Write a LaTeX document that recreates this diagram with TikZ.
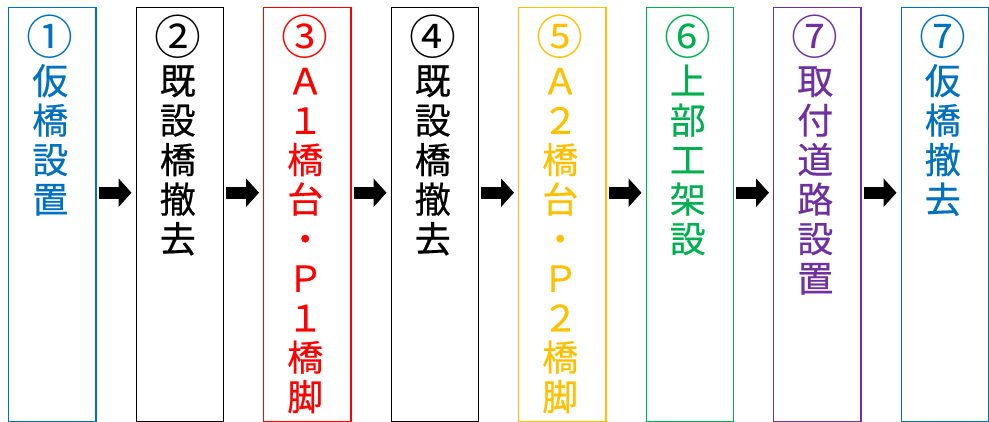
\documentclass[tikz,border=0pt]{standalone}
\usepackage{fontspec}
\newfontfamily\jpfont[FakeBold=0.5]{Noto Sans CJK JP}
\newfontfamily\jpnum{Noto Sans CJK JP}
\usetikzlibrary{positioning,arrows.meta}

\definecolor{stepblue}{RGB}{0,112,192}
\definecolor{stepred}{RGB}{255,0,0}
\definecolor{stepyellow}{RGB}{255,192,0}
\definecolor{stepgreen}{RGB}{0,176,80}
\definecolor{steppurple}{RGB}{112,48,160}

% circled step number, a bit larger and with no depth
\newcommand{\stepno}[1]{\raisebox{0pt}[\height][0pt]{\scalebox{1.3}{\jpnum #1}}}

\begin{document}
\begin{tikzpicture}
      [ x=1pt, y=1pt, node distance=39pt,
        stage/.style={draw=#1, line width=1.4pt, minimum width=87.1pt,
                      minimum height=414pt, inner sep=0pt},
        caption/.style={text=#1, font=\jpfont\fontsize{36}{39.5}\selectfont,
                        align=center, inner sep=0pt, xshift=-2pt},
        flow/.style={line width=12pt, -{Triangle[length=13pt,width=28pt]},
                     shorten <=2pt, shorten >=4pt}
      ]
      \useasboundingbox (0,0) rectangle (989,-422);

      \node[stage=stepblue,anchor=north west] (b1) at (8,-7)  {};
      \node[stage=black]       (b2) [right=of b1] {};
      \node[stage=stepred]     (b3) [right=of b2] {};
      \node[stage=black]       (b4) [right=of b3] {};
      \node[stage=stepyellow]  (b5) [right=of b4] {};
      \node[stage=stepgreen]   (b6) [right=of b5] {};
      \node[stage=steppurple]  (b7) [right=of b6] {};
      \node[stage=stepblue]    (b8) [right=of b7] {};

      \node[caption=stepblue]   (t1) [below=8pt of b1.north] {\stepno{①}\\仮\\橋\\設\\置};
      \node[caption=black]      (t2) [below=8pt of b2.north] {\stepno{②}\\既\\設\\橋\\撤\\去};
      \node[caption=stepred]    (t3) [below=8pt of b3.north] {\stepno{③}\\Ａ\\１\\橋\\台\\・\\Ｐ\\１\\橋\\脚};
      \node[caption=black]      (t4) [below=8pt of b4.north] {\stepno{④}\\既\\設\\橋\\撤\\去};
      \node[caption=stepyellow] (t5) [below=8pt of b5.north] {\stepno{⑤}\\Ａ\\２\\橋\\台\\・\\Ｐ\\２\\橋\\脚};
      \node[caption=stepgreen]  (t6) [below=8pt of b6.north] {\stepno{⑥}\\上\\部\\工\\架\\設};
      \node[caption=steppurple] (t7) [below=8pt of b7.north] {\stepno{⑦}\\取\\付\\道\\路\\設\\置};
      \node[caption=stepblue]   (t8) [below=8pt of b8.north] {\stepno{⑦}\\仮\\橋\\撤\\去};

      \foreach \i [count=\j from 2] in {1,...,7}
        \draw[flow] ([yshift=22pt]b\i.east) -- ([yshift=22pt]b\j.west);
    \end{tikzpicture}
\end{document}
